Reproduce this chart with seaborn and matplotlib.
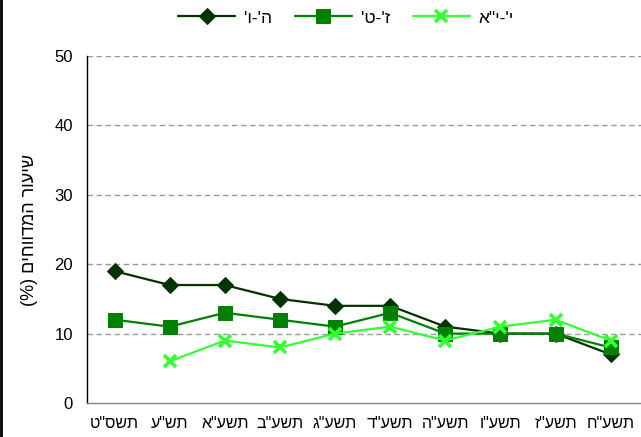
import numpy as np
import pandas as pd
import matplotlib
matplotlib.use('Agg')
import matplotlib.pyplot as plt
from matplotlib.ticker import FixedLocator
import seaborn as sns

# data
years = ['תשס"ט', 'תש"ע', 'תשע"א', 'תשע"ב', 'תשע"ג', 'תשע"ד', 'תשע"ה', 'תשע"ו', 'תשע"ז', 'תשע"ח']
grades = ["ה'-ו'", "ז'-ט'", "י'-י\"א"]
vals_5_6 = [19, 17, 17, 15, 14, 14, 11, 10, 10, 7]
vals_7_9 = [12, 11, 13, 12, 11, 13, 10, 10, 10, 8]
vals_10_11 = [np.nan, 6, 9, 8, 10, 11, 9, 11, 12, 9]
y_title = 'שיעור המדווחים (%)'

colors = ['#003300', '#008000', '#33FF33']
markers = ['D', 's', 'X']


def rtl(s):
    # matplotlib has no bidi support: reverse for visual order, mirror brackets
    s = s[::-1]
    return s.translate(str.maketrans('()', ')('))


sns.set_style('white')
plt.rcParams['font.family'] = ['Liberation Sans', 'DejaVu Sans']
plt.rcParams['text.color'] = 'black'
plt.rcParams['xtick.labelcolor'] = 'black'
plt.rcParams['ytick.labelcolor'] = 'black'
plt.rcParams['axes.labelcolor'] = 'black'

pos = np.arange(len(years))
df = pd.DataFrame({
    'pos': np.tile(pos, 3),
    'grade': np.repeat(grades, len(years)),
    'value': vals_5_6 + vals_7_9 + vals_10_11,
})

fig = plt.figure(figsize=(6.41, 4.37), dpi=100)
ax = fig.add_axes([87 / 641, 1 - 403 / 437, 1 - 87 / 641, (403 - 56) / 437])

for g, c, m in zip(grades, colors, markers):
    sub = df[df['grade'] == g].dropna()
    if m == 'X':
        sns.lineplot(data=sub, x='pos', y='value', ax=ax, color=c, lw=1.6,
                     marker='x', markersize=9, markeredgewidth=2.6,
                     markeredgecolor=c, label=rtl(g), sort=False)
    elif m == 'D':
        sns.lineplot(data=sub, x='pos', y='value', ax=ax, color=c, lw=1.6,
                     marker='D', markersize=8.5, markeredgecolor=c,
                     label=rtl(g), sort=False)
    else:
        sns.lineplot(data=sub, x='pos', y='value', ax=ax, color=c, lw=1.6,
                     marker='s', markersize=10, markeredgecolor=c,
                     label=rtl(g), sort=False)

ax.set_xlim(-0.5, len(years) - 0.45)
ax.set_ylim(0, 50)
ax.set_yticks(range(0, 51, 10))
ax.set_xticks(pos)
ax.set_xticklabels([rtl(y) for y in years], fontsize=11.5)
ax.xaxis.set_minor_locator(FixedLocator(np.arange(-0.5, len(years), 1.0)))
ax.tick_params(axis='x', which='major', length=0, pad=9)
ax.tick_params(axis='x', which='minor', length=5, color='#868686', width=1)
ax.tick_params(axis='y', length=5, color='#868686', labelsize=12, pad=5)

for yv in range(10, 51, 10):
    ax.axhline(yv, color='#9a9a9a', lw=1, ls=(0, (4, 2.5)), zorder=0)

for side in ['top', 'right']:
    ax.spines[side].set_visible(False)
ax.spines['left'].set_color('black')
ax.spines['left'].set_linewidth(1)
ax.spines['bottom'].set_color('#868686')
ax.spines['bottom'].set_linewidth(1)

ax.set_xlabel('')
ax.set_ylabel(rtl(y_title), fontsize=13, labelpad=12)

handles, labels = ax.get_legend_handles_labels()
ax.get_legend().remove()
fig.legend(handles, labels, loc='center', bbox_to_anchor=(346 / 641, 1 - 18 / 437),
           ncol=3, frameon=False, fontsize=12.5, handlelength=3.3,
           handletextpad=0.5, columnspacing=1.3)

# chart frame edge on the left
fig.add_artist(plt.Line2D([0.002, 0.002], [0, 1], color='black', lw=2,
                          transform=fig.transFigure))

fig.savefig('out.png', dpi=100)
